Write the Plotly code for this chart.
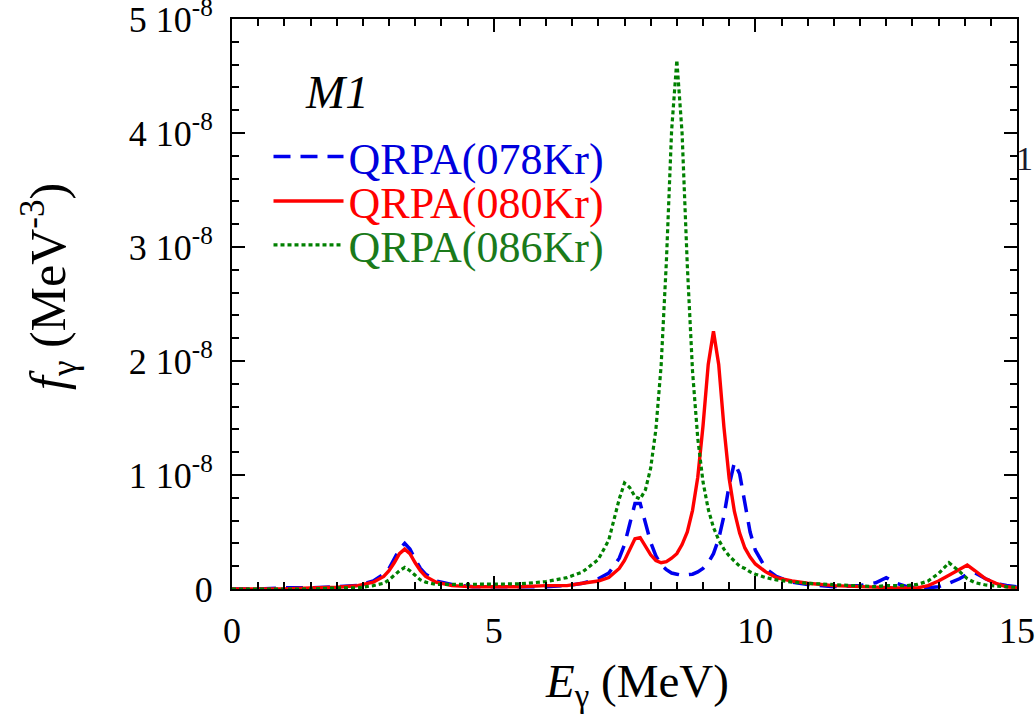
import plotly.graph_objects as go
import numpy as np

# Photon energy grid (MeV)
E_MeV = [0.0, 0.5, 1.0, 1.5, 2.0, 2.4, 2.7, 2.9, 3.0, 3.1, 3.2, 3.3, 3.4, 3.5, 3.6, 3.7,
         3.9, 4.2, 4.6, 5.0, 5.5, 6.0, 6.4, 6.7, 7.0, 7.2, 7.4, 7.5, 7.6, 7.7, 7.8, 7.9,
         8.0, 8.1, 8.2, 8.3, 8.4, 8.5, 8.6, 8.7, 8.8, 8.9, 9.0, 9.1, 9.2, 9.3, 9.4, 9.5,
         9.6, 9.7, 9.8, 9.9, 10.0, 10.2, 10.4, 10.7, 11.0, 11.5, 12.0, 12.3, 12.5, 12.7,
         12.9, 13.1, 13.3, 13.5, 13.7, 13.9, 14.05, 14.2, 14.4, 14.6, 14.8, 15.0]

# M1 strength functions, in units of 1e-8 MeV^-3
f078_e8 = [0.00, 0.00, 0.01, 0.01, 0.02, 0.03, 0.07, 0.13, 0.18, 0.26, 0.35, 0.40, 0.35, 0.26, 0.18, 0.13,
           0.07, 0.04, 0.02, 0.02, 0.02, 0.02, 0.03, 0.05, 0.09, 0.14, 0.27, 0.39, 0.57, 0.75, 0.75, 0.58,
           0.41, 0.29, 0.21, 0.17, 0.14, 0.13, 0.12, 0.125, 0.13, 0.15, 0.18, 0.23, 0.31, 0.44, 0.64, 0.91,
           1.11, 1.01, 0.74, 0.50, 0.34, 0.18, 0.11, 0.06, 0.04, 0.02, 0.03, 0.055, 0.10, 0.05,
           0.02, 0.01, 0.01, 0.02, 0.05, 0.09, 0.13, 0.14, 0.09, 0.05, 0.03, 0.02]

f080_e8 = [0.00, 0.00, 0.00, 0.01, 0.015, 0.03, 0.06, 0.11, 0.16, 0.23, 0.31, 0.35, 0.31, 0.23, 0.16, 0.11,
           0.06, 0.03, 0.02, 0.02, 0.02, 0.03, 0.03, 0.05, 0.07, 0.10, 0.18, 0.25, 0.35, 0.44, 0.45, 0.37,
           0.30, 0.25, 0.23, 0.24, 0.27, 0.31, 0.39, 0.50, 0.69, 0.98, 1.43, 1.97, 2.26, 1.97, 1.42, 0.97,
           0.68, 0.49, 0.36, 0.28, 0.22, 0.15, 0.10, 0.07, 0.05, 0.03, 0.02, 0.02, 0.015, 0.01,
           0.01, 0.01, 0.03, 0.07, 0.12, 0.17, 0.21, 0.16, 0.09, 0.05, 0.02, 0.01]

f086_e8 = [0.00, 0.00, 0.00, 0.00, 0.01, 0.01, 0.03, 0.05, 0.08, 0.12, 0.16, 0.19, 0.16, 0.12, 0.08, 0.06,
           0.04, 0.04, 0.04, 0.04, 0.045, 0.065, 0.10, 0.15, 0.26, 0.43, 0.79, 0.93, 0.89, 0.81, 0.79, 0.87,
           1.06, 1.40, 1.96, 2.87, 4.02, 4.64, 4.00, 2.84, 1.91, 1.32, 0.94, 0.70, 0.54, 0.43, 0.35, 0.29,
           0.24, 0.20, 0.18, 0.15, 0.13, 0.10, 0.08, 0.06, 0.05, 0.04, 0.03, 0.02, 0.03, 0.03,
           0.03, 0.04, 0.07, 0.135, 0.23, 0.155, 0.09, 0.055, 0.035, 0.025, 0.02, 0.015]

series_names = ["QRPA(078Kr)", "QRPA(080Kr)", "QRPA(086Kr)"]
line_colors = ["#0000ee", "#ff0000", "#008000"]
text_colors = ["#0000dd", "#ff0000", "#1a7a1a"]

y_ticks_e8 = [0, 1, 2, 3, 4, 5]
y_ticktext = ["0"] + [f"{v} 10<sup>-8</sup>" for v in y_ticks_e8[1:]]

SCALE = 1e-8
fig = go.Figure()

fig.add_trace(go.Scatter(x=E_MeV, y=np.array(f078_e8) * SCALE, mode="lines",
                         name=series_names[0], legend="legend", showlegend=True,
                         line=dict(color=line_colors[0], width=3.5, dash="17px,10px")))
fig.add_trace(go.Scatter(x=E_MeV, y=np.array(f080_e8) * SCALE, mode="lines",
                         name=series_names[1], legend="legend2", showlegend=True,
                         line=dict(color=line_colors[1], width=3.4)))
fig.add_trace(go.Scatter(x=E_MeV, y=np.array(f086_e8) * SCALE, mode="lines",
                         name=series_names[2], legend="legend3", showlegend=True,
                         line=dict(color=line_colors[2], width=3.2, dash="4px,3px")))

fontfam = "Liberation Serif, Times New Roman, serif"

def leg(y, color):
    return dict(x=0.0465, y=y, xanchor="left", yanchor="middle",
                font=dict(family=fontfam, size=44, color=color),
                bgcolor="rgba(0,0,0,0)", borderwidth=0, itemwidth=70,
                itemclick=False, itemdoubleclick=False, visible=True)

axis_common = dict(showline=True, linecolor="black", linewidth=2, mirror="ticks",
                   ticks="inside", ticklen=13, tickwidth=2, tickcolor="black",
                   showgrid=False, zeroline=False, automargin=False,
                   ticklabeloverflow="allow",
                   tickfont=dict(family=fontfam, size=36, color="black"))

fig.update_layout(
    width=1036, height=727,
    margin=dict(l=232, r=19, t=19, b=138),
    plot_bgcolor="white", paper_bgcolor="white",
    showlegend=True,
    font=dict(family=fontfam, color="black"),
    legend=leg(0.758, text_colors[0]),
    legend2=leg(0.680, text_colors[1]),
    legend3=leg(0.603, text_colors[2]),
    xaxis=dict(range=[0, 15], tickmode="linear", tick0=0, dtick=5,
               ticklabelstandoff=9,
               minor=dict(tickmode="linear", tick0=0, dtick=0.5, ticks="inside",
                          ticklen=7, tickwidth=1.5, tickcolor="black"),
               **axis_common),
    yaxis=dict(range=[0, 5.00001e-8], tickmode="array",
               tickvals=[v * SCALE for v in y_ticks_e8], ticktext=y_ticktext,
               ticklabelstandoff=10,
               minor=dict(tickmode="linear", tick0=0, dtick=0.2e-8, ticks="inside",
                          ticklen=7, tickwidth=1.5, tickcolor="black"),
               **axis_common),
    annotations=[
        dict(text="<i>M1</i>", xref="paper", yref="paper", x=0.134, y=0.872,
             xanchor="center", yanchor="middle", showarrow=False,
             font=dict(family=fontfam, size=47, color="black")),
        dict(text="<i>E</i><sub>γ</sub> (MeV)", xref="paper", yref="paper",
             x=0.516, y=-0.168, xanchor="center", yanchor="middle", showarrow=False,
             font=dict(family=fontfam, size=47, color="black")),
        dict(text="<i>f</i><sub>γ</sub> (MeV<sup>-3</sup>)", xref="paper", yref="paper",
             x=-0.233, y=0.53, xanchor="center", yanchor="middle", showarrow=False,
             textangle=-90, font=dict(family=fontfam, size=50, color="black")),
        dict(text="1", xref="paper", yref="paper", x=1.0235, y=0.755,
             xanchor="right", yanchor="middle", showarrow=False,
             font=dict(family=fontfam, size=34, color="#1a1a2e")),
    ],
)

fig.write_html("out.html", config={"displayModeBar": False},
               post_script="document.body.style.margin='0';document.body.style.overflow='hidden';")
